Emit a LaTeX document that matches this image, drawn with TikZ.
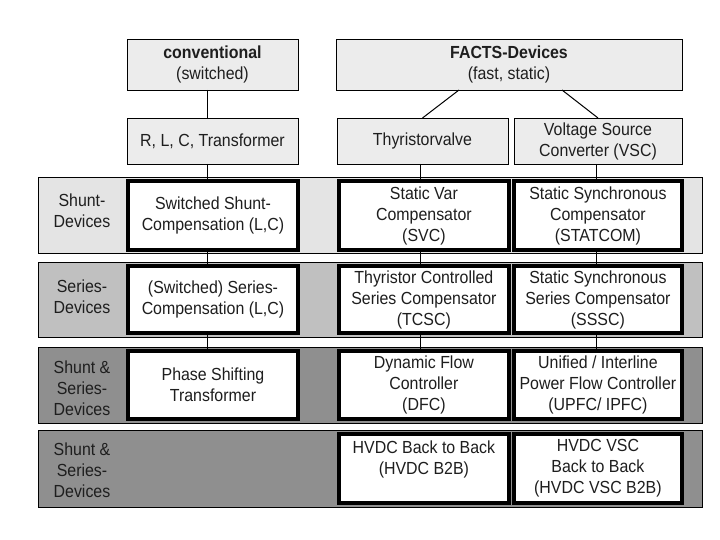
\documentclass[tikz,border=0pt]{standalone}
\usepackage{fontspec}
\setmainfont[FakeStretch=0.91]{Liberation Sans}
\usetikzlibrary{calc}
\definecolor{topfill}{HTML}{ECECEC}
\definecolor{bandA}{HTML}{E4E4E4}
\definecolor{bandB}{HTML}{C0C0C0}
\definecolor{bandC}{HTML}{8F8F8F}
\definecolor{txt}{HTML}{1E1E1E}
\begin{document}
\begin{tikzpicture}[x=1pt,y=-1pt,
  every node/.style={inner sep=0pt,outer sep=0pt,align=center,text=txt,
    font=\fontsize{17.5}{21}\selectfont},
  topbox/.style={draw=black,line width=0.9pt,fill=topfill,minimum height=#1},
  band/.style={draw=black,line width=0.9pt,fill=#1,minimum width=664pt},
  devbox/.style={draw=black,line width=4pt,fill=white},
  conn/.style={draw=black,line width=1pt}]
\useasboundingbox (0,0) rectangle (720,540);
\fill[white] (0,0) rectangle (720,540);

% top boxes
\node[topbox=51pt,minimum width=171pt] (conv) at (212.5,64.5) {\textbf{conventional}\\(switched)};
\node[topbox=51pt,minimum width=346pt] (facts) at (509,64.5) {\textbf{FACTS-Devices}\\(fast, static)};
\node[topbox=46pt,minimum width=171pt] (rlc) at (212.5,141) {R, L, C, Transformer};
\node[topbox=46pt,minimum width=171pt] (thy) at (422.5,141) {Thyristorvalve};
\node[topbox=46pt,minimum width=168pt] (vsc) at (598,141) {Voltage Source\\Converter (VSC)};

% bands
\node[band=bandA,minimum height=76pt] (b1) at (370,215) {};
\node[band=bandB,minimum height=75pt] (b2) at (370,299.5) {};
\node[band=bandC,minimum height=76pt] (b3) at (370,385) {};
\node[band=bandC,minimum height=77pt] (b4) at (370,468.5) {};

% row labels
\node (l1) at (82,211) {Shunt-\\Devices};
\node (l2) at (82,297) {Series-\\Devices};
\node (l3) at (82,388) {Shunt \&\\Series-\\Devices};
\node (l4) at (82,470) {Shunt \&\\Series-\\Devices};

% device boxes
\node[devbox,minimum width=170pt,minimum height=69pt] (s1l) at (213,215.5) {Switched Shunt-\\Compensation (L,C)};
\node[devbox,minimum width=169.7pt,minimum height=69pt] (s1m) at (423.9,215.5) {Static Var\\Compensator\\(SVC)};
\node[devbox,minimum width=168.2pt,minimum height=69pt] (s1r) at (597.9,215.5) {Static Synchronous\\Compensator\\(STATCOM)};

\node[devbox,minimum width=170pt,minimum height=67pt] (s2l) at (213,299.5) {(Switched) Series-\\Compensation (L,C)};
\node[devbox,minimum width=169.7pt,minimum height=67pt] (s2m) at (423.9,299.5) {Thyristor Controlled\\Series Compensator\\(TCSC)};
\node[devbox,minimum width=168.2pt,minimum height=67pt] (s2r) at (597.9,299.5) {Static Synchronous\\Series Compensator\\(SSSC)};

\node[devbox,minimum width=170pt,minimum height=68pt] (s3l) at (213,385) {Phase Shifting\\Transformer};
\node[devbox,minimum width=169.7pt,minimum height=68pt] (s3m) at (423.9,385) {Dynamic Flow\\Controller\\(DFC)};
\node[devbox,minimum width=168.2pt,minimum height=68pt] (s3r) at (597.9,385) {Unified / Interline\\Power Flow Controller\\(UPFC/ IPFC)};

\node[devbox,minimum width=169.7pt,minimum height=69pt] (s4m) at (423.9,468.5) {HVDC Back to Back\\(HVDC B2B)\\\mbox{}};
\node[devbox,minimum width=168.2pt,minimum height=69pt] (s4r) at (597.9,468.5) {HVDC VSC\\Back to Back\\(HVDC VSC B2B)};

% column coordinates
\coordinate (colL) at (207,0);
\coordinate (colM) at (420,0);
\coordinate (colR) at (596,0);

% connectors
\draw[conn] (conv.south -| colL) -- (rlc.north -| colL);
\draw[conn] ([xshift=-50pt]facts.south) -- (thy.north);
\draw[conn] ([xshift=53pt]facts.south) -- (vsc.north);

\draw[conn] (rlc.south -| colL) -- ([yshift=2pt]s1l.north -| colL);
\draw[conn] ([yshift=-2pt]s1l.south -| colL) -- ([yshift=2pt]s2l.north -| colL);
\draw[conn] ([yshift=-2pt]s2l.south -| colL) -- ([yshift=2pt]s3l.north -| colL);

\draw[conn] (thy.south -| colM) -- ([yshift=2pt]s1m.north -| colM);
\draw[conn] ([yshift=-2pt]s1m.south -| colM) -- ([yshift=2pt]s2m.north -| colM);
\draw[conn] ([yshift=-2pt]s2m.south -| colM) -- ([yshift=2pt]s3m.north -| colM);

\draw[conn] (vsc.south -| colR) -- ([yshift=2pt]s1r.north -| colR);
\draw[conn] ([yshift=-2pt]s1r.south -| colR) -- ([yshift=2pt]s2r.north -| colR);
\draw[conn] ([yshift=-2pt]s2r.south -| colR) -- ([yshift=2pt]s3r.north -| colR);
\end{tikzpicture}
\end{document}
